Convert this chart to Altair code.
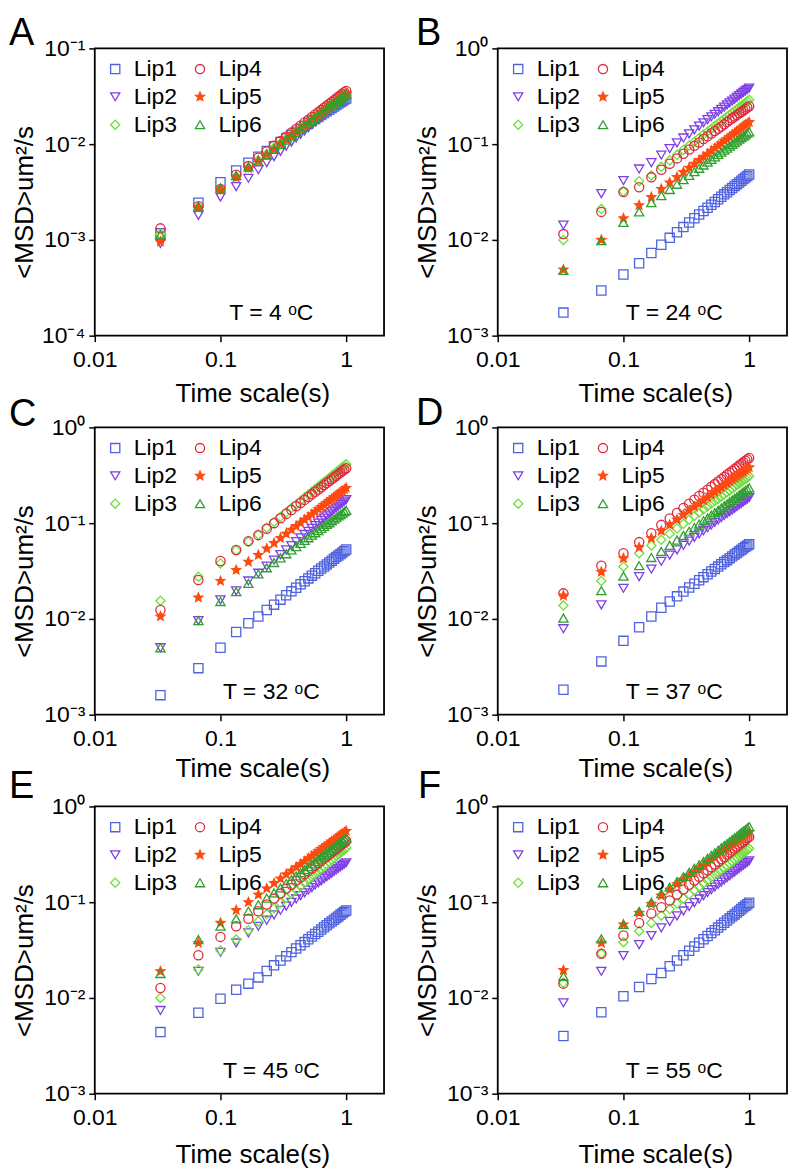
import altair as alt
import pandas as pd

# ---------------- data ----------------
time_s = [0.0333, 0.0667, 0.1000, 0.1333, 0.1667, 0.2000, 0.2333, 0.2667, 0.3000, 0.3333,
          0.3667, 0.4000, 0.4333, 0.4667, 0.5000, 0.5333, 0.5667, 0.6000, 0.6333, 0.6667,
          0.7000, 0.7333, 0.7667, 0.8000, 0.8333, 0.8667, 0.9000, 0.9333, 0.9667, 1.0000]

lipids = ["Lip1", "Lip2", "Lip3", "Lip4", "Lip5", "Lip6"]
panel_letters = ["A", "B", "C", "D", "E", "F"]
temperatures = ["4", "24", "32", "37", "45", "55"]
y_low = [1e-4, 1e-3, 1e-3, 1e-3, 1e-3, 1e-3]
y_high = [1e-1, 1.0, 1.0, 1.0, 1.0, 1.0]

# Panel A, T = 4 C
A_lip1 = [0.00117,0.00245,0.0040,0.0053,0.0064,0.0074,0.0085,0.0095,0.0105,0.0115,0.0125,0.0135,0.0145,0.0155,0.0164,0.0174,0.0183,0.0192,0.0202,0.0211,0.0220,0.0229,0.0238,0.0247,0.0256,0.0265,0.0274,0.0283,0.0292,0.0300]
A_lip2 = [0.00092,0.0018,0.0028,0.0036,0.0044,0.0054,0.0064,0.0074,0.0084,0.0095,0.0105,0.0116,0.0126,0.0137,0.0148,0.0159,0.0170,0.0181,0.0192,0.0203,0.0214,0.0225,0.0237,0.0248,0.0260,0.0271,0.0282,0.0294,0.0305,0.0317]
A_lip3 = [0.00115,0.0022,0.0034,0.0046,0.0057,0.0068,0.0079,0.0091,0.0102,0.0113,0.0125,0.0136,0.0147,0.0159,0.0170,0.0181,0.0193,0.0204,0.0215,0.0227,0.0238,0.0249,0.0261,0.0272,0.0283,0.0295,0.0306,0.0317,0.0329,0.0340]
A_lip4 = [0.00132,0.00225,0.0034,0.0048,0.0059,0.0072,0.0084,0.0096,0.0108,0.0120,0.0132,0.0144,0.0156,0.0168,0.0180,0.0192,0.0204,0.0216,0.0228,0.0240,0.0252,0.0264,0.0276,0.0288,0.0300,0.0312,0.0324,0.0336,0.0348,0.0360]
A_lip5 = [0.00096,0.00215,0.0033,0.0045,0.0056,0.0067,0.0078,0.0089,0.0101,0.0112,0.0123,0.0134,0.0145,0.0156,0.0168,0.0179,0.0190,0.0201,0.0212,0.0223,0.0235,0.0246,0.0257,0.0268,0.0279,0.0290,0.0302,0.0313,0.0324,0.0335]
A_lip6 = [0.00113,0.00225,0.0035,0.0047,0.0058,0.0066,0.0077,0.0088,0.0099,0.0110,0.0121,0.0132,0.0143,0.0154,0.0165,0.0176,0.0187,0.0198,0.0209,0.0220,0.0231,0.0242,0.0253,0.0264,0.0275,0.0286,0.0297,0.0308,0.0319,0.0330]

# Panel B, T = 24 C
B_lip1 = [0.00174,0.00296,0.00435,0.0057,0.0073,0.0089,0.0105,0.0120,0.0136,0.0152,0.0168,0.0184,0.0200,0.0217,0.0233,0.0249,0.0266,0.0282,0.0299,0.0315,0.0332,0.0348,0.0365,0.0382,0.0398,0.0415,0.0432,0.0449,0.0465,0.0482]
B_lip2 = [0.0143,0.0304,0.0417,0.055,0.064,0.077,0.0898,0.103,0.116,0.128,0.141,0.154,0.167,0.180,0.193,0.205,0.218,0.231,0.244,0.257,0.270,0.282,0.295,0.308,0.321,0.334,0.347,0.359,0.372,0.385]
B_lip3 = [0.0100,0.021,0.032,0.041,0.047,0.058,0.0677,0.0773,0.087,0.0967,0.106,0.116,0.126,0.135,0.145,0.155,0.164,0.174,0.184,0.193,0.203,0.213,0.222,0.232,0.242,0.251,0.261,0.271,0.280,0.290]
B_lip4 = [0.0115,0.0196,0.0316,0.0355,0.045,0.054,0.0625,0.0710,0.0794,0.0878,0.0960,0.104,0.113,0.121,0.129,0.137,0.145,0.153,0.161,0.170,0.178,0.186,0.194,0.202,0.210,0.217,0.225,0.233,0.241,0.249]
B_lip5 = [0.0049,0.0100,0.0168,0.023,0.028,0.034,0.0397,0.0453,0.051,0.0567,0.0623,0.068,0.0737,0.0793,0.085,0.0907,0.0963,0.102,0.108,0.113,0.119,0.125,0.130,0.136,0.142,0.147,0.153,0.159,0.164,0.170]
B_lip6 = [0.0048,0.0098,0.0152,0.0196,0.0245,0.029,0.0336,0.0381,0.0426,0.0471,0.0516,0.0560,0.0605,0.0649,0.0693,0.0736,0.078,0.0824,0.0867,0.091,0.0954,0.0996,0.104,0.108,0.113,0.117,0.121,0.125,0.130,0.134]

# Panel C, T = 32 C
C_lip1 = [0.0016,0.00306,0.0050,0.0073,0.0090,0.0106,0.0124,0.0141,0.0159,0.0177,0.0194,0.0212,0.0230,0.0247,0.0265,0.0283,0.0300,0.0318,0.0336,0.0353,0.0371,0.0389,0.0406,0.0424,0.0442,0.0459,0.0477,0.0495,0.0512,0.0530]
C_lip2 = [0.0050,0.0096,0.0158,0.0196,0.0249,0.030,0.0356,0.0412,0.0469,0.0526,0.0584,0.0643,0.0702,0.0762,0.0822,0.0882,0.0943,0.100,0.107,0.113,0.119,0.125,0.132,0.138,0.144,0.151,0.157,0.163,0.170,0.176]
C_lip3 = [0.0155,0.0276,0.038,0.052,0.064,0.076,0.0894,0.103,0.116,0.130,0.144,0.157,0.171,0.185,0.199,0.213,0.227,0.241,0.255,0.269,0.283,0.297,0.312,0.326,0.340,0.354,0.369,0.383,0.397,0.412]
C_lip4 = [0.0124,0.0255,0.0402,0.0524,0.0649,0.075,0.0875,0.100,0.1125,0.125,0.1375,0.150,0.1625,0.175,0.1875,0.200,0.2125,0.225,0.2375,0.250,0.2625,0.275,0.2875,0.300,0.3125,0.325,0.3375,0.350,0.3625,0.375]
C_lip5 = [0.0106,0.0167,0.0249,0.0324,0.0395,0.0465,0.0543,0.062,0.0698,0.0775,0.0853,0.093,0.101,0.109,0.116,0.124,0.132,0.140,0.147,0.155,0.163,0.171,0.178,0.186,0.194,0.202,0.209,0.217,0.225,0.233]
C_lip6 = [0.0050,0.0096,0.0152,0.0193,0.0235,0.0295,0.0342,0.0388,0.0434,0.0479,0.0525,0.057,0.0615,0.066,0.0704,0.0749,0.0794,0.0838,0.0882,0.0926,0.097,0.101,0.106,0.110,0.114,0.119,0.123,0.127,0.132,0.136]

# Panel D, T = 37 C
D_lip1 = [0.00182,0.0036,0.0059,0.0082,0.0106,0.0131,0.0152,0.0172,0.0193,0.0213,0.0233,0.0253,0.0273,0.0293,0.0313,0.0333,0.0352,0.0372,0.0392,0.0411,0.0431,0.0450,0.0470,0.0489,0.0508,0.0528,0.0547,0.0566,0.0585,0.0604]
D_lip2 = [0.0079,0.0140,0.0209,0.0276,0.0332,0.040,0.0463,0.0526,0.0588,0.065,0.0711,0.0773,0.0834,0.0895,0.0955,0.102,0.108,0.114,0.120,0.126,0.132,0.137,0.143,0.149,0.155,0.161,0.167,0.173,0.179,0.185]
D_lip3 = [0.0138,0.0249,0.0351,0.0486,0.0585,0.067,0.0776,0.088,0.0985,0.109,0.119,0.129,0.140,0.150,0.160,0.170,0.180,0.190,0.200,0.210,0.220,0.230,0.240,0.250,0.260,0.270,0.280,0.290,0.299,0.309]
D_lip4 = [0.0185,0.036,0.0486,0.0634,0.0787,0.096,0.112,0.128,0.144,0.160,0.176,0.192,0.208,0.224,0.240,0.256,0.272,0.288,0.304,0.320,0.336,0.352,0.368,0.384,0.400,0.416,0.432,0.448,0.464,0.480]
D_lip5 = [0.0175,0.031,0.043,0.0558,0.0698,0.083,0.0961,0.109,0.122,0.135,0.148,0.160,0.173,0.186,0.198,0.211,0.223,0.236,0.248,0.261,0.273,0.285,0.297,0.310,0.322,0.334,0.346,0.359,0.371,0.383]
D_lip6 = [0.0102,0.0197,0.028,0.036,0.0438,0.0507,0.0587,0.0666,0.0745,0.0824,0.0901,0.098,0.106,0.113,0.121,0.129,0.136,0.144,0.152,0.159,0.167,0.174,0.182,0.189,0.197,0.204,0.212,0.219,0.226,0.234]

# Panel E, T = 45 C
E_lip1 = [0.0044,0.0070,0.0098,0.0122,0.0141,0.0164,0.0191,0.0219,0.0246,0.0273,0.0301,0.0328,0.0355,0.0383,0.0410,0.0437,0.0465,0.0492,0.0519,0.0547,0.0574,0.0601,0.0629,0.0656,0.0683,0.0711,0.0738,0.0765,0.0793,0.0820]
E_lip2 = [0.0074,0.019,0.030,0.0375,0.0478,0.056,0.0648,0.0736,0.0823,0.091,0.0996,0.108,0.117,0.125,0.134,0.142,0.151,0.159,0.167,0.176,0.184,0.192,0.201,0.209,0.217,0.226,0.234,0.242,0.250,0.258]
E_lip3 = [0.0100,0.0198,0.0313,0.0407,0.051,0.063,0.0747,0.0864,0.0984,0.111,0.123,0.135,0.147,0.160,0.173,0.185,0.198,0.211,0.224,0.237,0.250,0.263,0.276,0.289,0.303,0.316,0.329,0.343,0.356,0.370]
E_lip4 = [0.0127,0.0279,0.0434,0.056,0.067,0.0805,0.0947,0.109,0.123,0.138,0.152,0.167,0.181,0.196,0.211,0.225,0.240,0.255,0.270,0.285,0.300,0.315,0.330,0.345,0.360,0.375,0.391,0.406,0.421,0.436]
E_lip5 = [0.019,0.0375,0.0608,0.0826,0.100,0.120,0.139,0.158,0.176,0.195,0.213,0.232,0.250,0.268,0.287,0.305,0.323,0.341,0.359,0.377,0.395,0.412,0.430,0.448,0.466,0.483,0.501,0.519,0.536,0.554]
E_lip6 = [0.018,0.0407,0.0562,0.067,0.0805,0.094,0.110,0.125,0.141,0.157,0.172,0.188,0.204,0.219,0.235,0.251,0.266,0.282,0.298,0.313,0.329,0.345,0.360,0.376,0.392,0.407,0.423,0.439,0.454,0.470]

# Panel F, T = 55 C
F_lip1 = [0.0040,0.0071,0.0104,0.0130,0.0158,0.0182,0.0214,0.0246,0.0279,0.0311,0.0344,0.0377,0.0410,0.0443,0.0476,0.0510,0.0543,0.0577,0.0610,0.0644,0.0678,0.0712,0.0746,0.0780,0.0814,0.0849,0.0883,0.0917,0.0952,0.0986]
F_lip2 = [0.0089,0.019,0.0277,0.036,0.0448,0.054,0.063,0.072,0.081,0.090,0.099,0.108,0.117,0.126,0.135,0.144,0.153,0.162,0.171,0.180,0.189,0.198,0.207,0.216,0.225,0.234,0.243,0.252,0.261,0.270]
F_lip3 = [0.0144,0.029,0.0382,0.0498,0.0608,0.0726,0.0847,0.0968,0.109,0.121,0.133,0.145,0.157,0.169,0.182,0.194,0.206,0.218,0.230,0.242,0.254,0.266,0.278,0.290,0.303,0.315,0.327,0.339,0.351,0.363]
F_lip4 = [0.0141,0.029,0.0449,0.0608,0.0762,0.0887,0.104,0.120,0.136,0.152,0.168,0.184,0.200,0.216,0.232,0.248,0.265,0.281,0.297,0.314,0.330,0.347,0.364,0.380,0.397,0.414,0.430,0.447,0.464,0.481]
F_lip5 = [0.0195,0.0376,0.0585,0.0774,0.096,0.117,0.135,0.154,0.172,0.190,0.208,0.226,0.244,0.262,0.279,0.297,0.315,0.332,0.350,0.367,0.385,0.402,0.419,0.437,0.454,0.471,0.488,0.506,0.523,0.540]
F_lip6 = [0.0168,0.0414,0.0585,0.080,0.100,0.123,0.1435,0.164,0.1845,0.205,0.2255,0.246,0.2665,0.287,0.3075,0.328,0.3485,0.369,0.3895,0.410,0.4305,0.451,0.4715,0.492,0.5125,0.533,0.5535,0.574,0.5945,0.615]

panel_series = {
    "A": [A_lip1, A_lip2, A_lip3, A_lip4, A_lip5, A_lip6],
    "B": [B_lip1, B_lip2, B_lip3, B_lip4, B_lip5, B_lip6],
    "C": [C_lip1, C_lip2, C_lip3, C_lip4, C_lip5, C_lip6],
    "D": [D_lip1, D_lip2, D_lip3, D_lip4, D_lip5, D_lip6],
    "E": [E_lip1, E_lip2, E_lip3, E_lip4, E_lip5, E_lip6],
    "F": [F_lip1, F_lip2, F_lip3, F_lip4, F_lip5, F_lip6],
}

# ---------------- styling ----------------
FONT = "Liberation Sans"
STAR = ("M0,-1L0.264,-0.364L0.951,-0.309L0.428,0.139L0.588,0.809L0,0.45"
        "L-0.588,0.809L-0.428,0.139L-0.951,-0.309L-0.264,-0.364Z")
# in lipid order Lip1..Lip6 (legend fills column-wise: Lip1-3 left, Lip4-6 right)
stroke_range = ["#4F63E0", "#7E3FE6", "#6EE03A", "#E0283C", "#FF4A10", "#2FA02F"]
fill_range = ["transparent", "transparent", "transparent", "transparent", "#FF4A10", "transparent"]
shape_range = ["square", "triangle-down", "diamond", "circle", STAR, "triangle-up"]

# letter positions (relative to each plot's top-left corner)
letter_dx = [-86, -82, -86, -82, -86, -80]
letter_dy = [-3, -3, -1, -2, -8, -8]
xtitle_dy = [66, 66, 62, 62, 69, 69]

W, H = 290, 288

y_label_expr = ("datum.value > 0.5 ? '10⁰' : datum.value > 0.05 ? '10⁻¹' : "
                "datum.value > 0.005 ? '10⁻²' : datum.value > 0.0005 ? '10⁻³' : '10⁻⁴'")


def make_panel(i):
    letter = panel_letters[i]
    rows = []
    for lip, vals in zip(lipids, panel_series[letter]):
        for t, v in zip(time_s, vals):
            rows.append({"lipid": lip, "t": t, "msd": v})
    df = pd.DataFrame(rows)

    lo, hi = y_low[i], y_high[i]
    yticks = [v for v in [1e-4, 1e-3, 1e-2, 1e-1, 1.0] if lo * 0.999 <= v <= hi * 1.001]

    leg = alt.Legend(title=None)
    pts = alt.Chart(df).mark_point(opacity=1, strokeWidth=1.3, size=85).encode(
        x=alt.X("t:Q",
                scale=alt.Scale(type="log", domain=[0.01, 2], nice=False),
                axis=alt.Axis(values=[0.01, 0.1, 1], format="~g", title="Time scale(s)",
                              labelFlush=False, labelPadding=7,
                              titleX=158, titleY=xtitle_dy[i], titleAlign="center",
                              titleBaseline="alphabetic")),
        y=alt.Y("msd:Q",
                scale=alt.Scale(type="log", domain=[lo, hi], nice=False),
                axis=alt.Axis(values=yticks, labelExpr=y_label_expr, title="<MSD>um²/s",
                              labelPadding=4, titleX=-70, titleY=154, titleAngle=270,
                              titleAlign="center", titleBaseline="middle")),
        stroke=alt.Stroke("lipid:N", scale=alt.Scale(domain=lipids, range=stroke_range), legend=leg),
        fill=alt.Fill("lipid:N", scale=alt.Scale(domain=lipids, range=fill_range), legend=leg),
        shape=alt.Shape("lipid:N", scale=alt.Scale(domain=lipids, range=shape_range), legend=leg),
    )

    note = alt.Chart(pd.DataFrame({"label": [f"T = {temperatures[i]} ᵒC"]})).mark_text(
        font=FONT, fontSize=23, align="center", baseline="alphabetic", color="black"
    ).encode(x=alt.value(177), y=alt.value(272), text="label:N")

    tag = alt.Chart(pd.DataFrame({"label": [letter]})).mark_text(
        font=FONT, fontSize=38, align="left", baseline="alphabetic", color="black"
    ).encode(x=alt.value(letter_dx[i]), y=alt.value(letter_dy[i]), text="label:N")

    return alt.layer(pts, note, tag).properties(width=W, height=H)


panels = [make_panel(i) for i in range(6)]

chart = alt.ConcatChart(
    concat=panels, columns=2, spacing={"row": 92, "column": 114}, bounds="flush",
    padding={"left": 0, "top": 5, "right": 0, "bottom": 0}
).resolve_scale(
    x="independent", y="independent", stroke="independent", fill="independent", shape="independent"
).resolve_legend(
    stroke="independent", fill="independent", shape="independent"
).configure(
    font=FONT
).configure_view(
    stroke="black", strokeWidth=1.8
).configure_axis(
    grid=False, domain=False, tickColor="black", tickWidth=1.5, tickSize=6,
    labelFont=FONT, labelFontSize=23, labelColor="black",
    titleFont=FONT, titleFontSize=26, titleFontWeight="normal", titleColor="black"
).configure_legend(
    orient="top-left", offset=9, padding=0, columns=2, columnPadding=11, rowPadding=4,
    labelFont=FONT, labelFontSize=23, labelColor="black", labelOffset=7,
    symbolSize=85, symbolStrokeWidth=1.3, symbolOpacity=1
)

chart.save("out.html", embed_options={"renderer": "svg", "actions": False})
